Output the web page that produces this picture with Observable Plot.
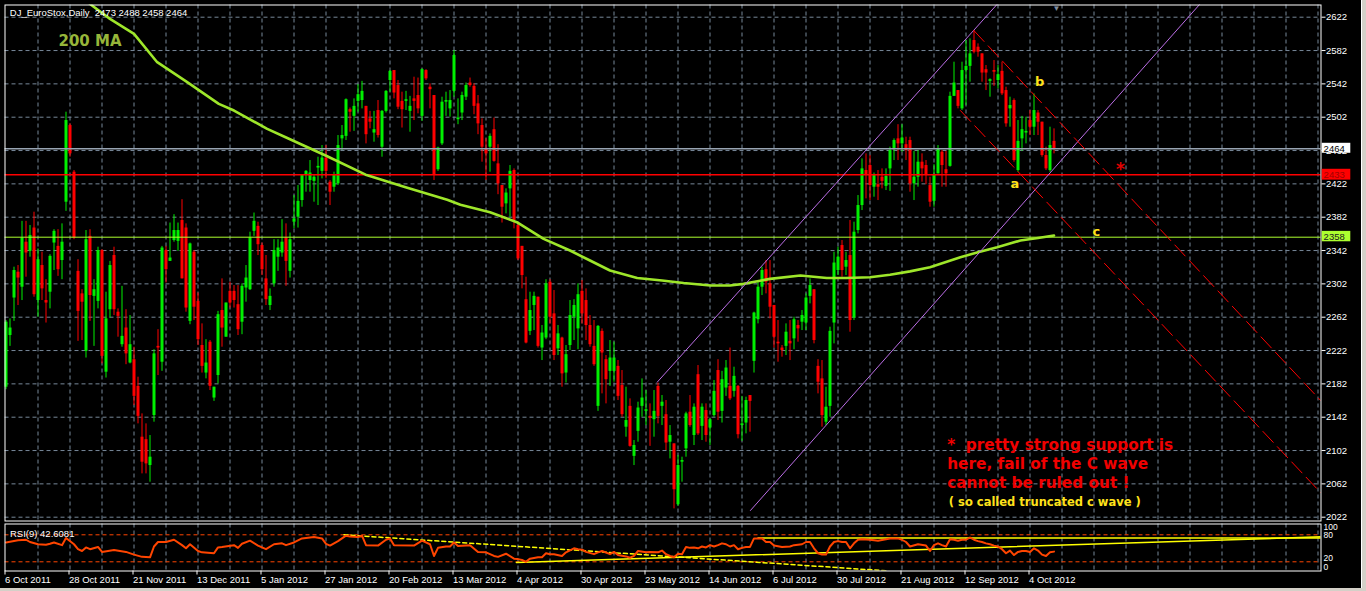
<!DOCTYPE html>
<html><head><meta charset="utf-8">
<script src="https://cdn.jsdelivr.net/npm/d3@7"></script>
<script src="https://cdn.jsdelivr.net/npm/@observablehq/plot@0.6"></script>
<style>
html,body{margin:0;padding:0;background:#000;width:1366px;height:591px;overflow:hidden;}
#main{position:absolute;left:0;top:0;}
#rsi{position:absolute;left:0;top:522px;}
#edgeR{position:absolute;left:1361px;top:0;width:5px;height:591px;background:#d4d0c8;border-left:1px solid #fff;}
#edgeB{position:absolute;left:0;top:588px;width:1366px;height:3px;background:#d4d0c8;}
</style></head>
<body>
<div id="main"></div><div id="rsi"></div><div id="edgeR"></div><div id="edgeB"></div>
<script>
// ---------------- DATA ----------------
const symbol = "DJ_EuroStox,Daily";
const opens = [2178,2240,2285,2316,2298,2352,2341,2369,2282,2324,
2282,2292,2351,2347,2330,2400,2492,2436,2317,2290,
2221,2359,2287,2281,2342,2196,2271,2336,2268,2229,
2249,2207,2211,2179,2118,2115,2084,2144,2227,2208,
2342,2329,2354,2353,2378,2369,2257,2340,2281,2228,
2195,2232,2165,2192,2270,2238,2293,2293,2277,2256,
2297,2295,2365,2371,2348,2308,2276,2302,2334,2339,
2357,2317,2376,2382,2402,2432,2426,2425,2441,2437,
2453,2424,2418,2422,2476,2479,2511,2503,2521,2522,
2515,2500,2483,2510,2466,2509,2546,2558,2540,2521,
2521,2509,2524,2528,2503,2558,2538,2528,2439,2470,
2520,2512,2533,2499,2507,2526,2543,2539,2518,2492,
2464,2466,2487,2446,2420,2398,2416,2438,2372,2347,
2283,2245,2276,2286,2225,2237,2304,2266,2224,2237,
2195,2228,2262,2248,2293,2282,2252,2227,2155,2245,
2211,2197,2197,2203,2180,2130,2155,2095,2125,2155,
2149,2143,2139,2179,2155,2145,2112,2110,2037,2088,
2104,2148,2120,2193,2131,2150,2129,2144,2198,2149,
2177,2179,2173,2179,2132,2135,2168,2209,2259,2298,
2319,2302,2276,2232,2225,2227,2233,2236,2252,2256,
2255,2287,2295,2203,2188,2136,2155,2255,2318,2348,
2322,2336,2261,2366,2396,2438,2444,2418,2421,2430,
2419,2440,2464,2476,2470,2469,2474,2422,2430,2448,
2444,2420,2401,2434,2460,2439,2443,2527,2534,2512,
2558,2563,2594,2586,2578,2559,2545,2558,2546,2557,
2534,2512,2522,2438,2476,2483,2498,2490,2507,2496,
2456,2438,2473];
const highs = [2258,2260,2322,2324,2377,2377,2372,2388,2344,2340,
2307,2337,2367,2367,2374,2508,2494,2438,2331,2295,
2366,2367,2307,2346,2343,2292,2329,2346,2272,2299,
2271,2264,2226,2190,2146,2134,2120,2223,2247,2347,
2347,2375,2385,2375,2403,2374,2351,2342,2291,2254,
2235,2234,2178,2269,2308,2279,2304,2300,2300,2302,
2324,2364,2387,2376,2351,2336,2296,2355,2355,2379,
2374,2363,2408,2420,2433,2438,2450,2432,2454,2468,
2468,2426,2436,2480,2492,2524,2513,2524,2541,2545,
2515,2509,2509,2522,2510,2534,2558,2558,2546,2532,
2533,2527,2550,2549,2560,2559,2542,2528,2466,2526,
2532,2534,2582,2524,2532,2543,2549,2542,2528,2500,
2476,2482,2501,2469,2420,2416,2444,2440,2374,2347,
2310,2292,2292,2286,2252,2307,2307,2294,2252,2238,
2228,2282,2283,2302,2306,2296,2264,2258,2252,2248,
2216,2234,2232,2210,2198,2178,2164,2114,2160,2188,
2174,2158,2174,2183,2168,2162,2132,2110,2096,2094,
2148,2168,2158,2204,2158,2158,2140,2186,2211,2197,
2210,2225,2202,2180,2167,2166,2168,2268,2306,2322,
2330,2330,2276,2258,2228,2254,2258,2262,2258,2270,
2290,2308,2295,2211,2210,2178,2250,2340,2346,2354,
2340,2378,2376,2408,2452,2458,2456,2435,2438,2440,
2440,2466,2476,2493,2493,2478,2478,2461,2462,2458,
2450,2430,2445,2468,2462,2461,2532,2568,2534,2568,
2594,2596,2606,2590,2578,2564,2548,2570,2564,2568,
2538,2526,2524,2498,2503,2502,2510,2530,2510,2496,
2466,2490,2488];
const lows = [2175,2227,2257,2276,2282,2310,2334,2286,2262,2282,
2255,2272,2318,2311,2307,2389,2454,2355,2233,2234,
2213,2257,2227,2272,2206,2189,2261,2264,2238,2226,
2205,2206,2156,2134,2074,2074,2064,2136,2192,2197,
2303,2329,2352,2341,2308,2268,2253,2258,2228,2195,
2188,2174,2161,2182,2226,2238,2273,2273,2240,2241,
2280,2294,2359,2336,2312,2276,2270,2298,2317,2334,
2299,2309,2368,2369,2394,2412,2412,2400,2396,2428,
2428,2396,2412,2420,2462,2474,2484,2485,2508,2512,
2470,2488,2472,2477,2454,2507,2532,2524,2511,2489,
2510,2484,2498,2506,2497,2546,2512,2426,2437,2468,
2503,2502,2526,2493,2498,2522,2538,2505,2481,2448,
2426,2436,2448,2409,2375,2386,2382,2368,2330,2296,
2230,2240,2246,2225,2210,2235,2254,2210,2216,2178,
2183,2222,2234,2223,2254,2234,2226,2203,2149,2170,
2158,2179,2184,2162,2142,2118,2106,2084,2112,2142,
2132,2107,2118,2134,2132,2102,2092,2032,2035,2064,
2094,2130,2108,2120,2114,2112,2108,2142,2138,2135,
2167,2162,2166,2116,2113,2122,2124,2195,2254,2288,
2290,2260,2225,2208,2214,2216,2210,2223,2232,2246,
2246,2278,2230,2170,2130,2132,2142,2230,2312,2310,
2312,2244,2258,2362,2390,2404,2402,2406,2402,2416,
2414,2413,2450,2450,2460,2450,2412,2402,2418,2424,
2421,2394,2394,2434,2418,2418,2442,2527,2512,2510,
2516,2544,2578,2574,2544,2534,2526,2539,2536,2528,
2490,2490,2448,2436,2461,2470,2480,2480,2480,2454,
2438,2436,2458];
const closes = [2256,2249,2318,2309,2357,2339,2360,2289,2331,2296,
2279,2335,2365,2319,2352,2498,2458,2357,2269,2280,
2355,2288,2295,2342,2215,2260,2324,2271,2263,2239,
2218,2229,2167,2143,2088,2086,2094,2218,2225,2345,
2319,2333,2366,2366,2308,2273,2350,2274,2235,2203,
2207,2179,2178,2265,2249,2279,2279,2282,2247,2299,
2309,2357,2377,2349,2319,2283,2287,2342,2345,2352,
2329,2355,2380,2401,2432,2437,2435,2430,2443,2453,
2437,2412,2432,2468,2480,2523,2508,2515,2529,2533,
2481,2496,2487,2480,2509,2533,2557,2531,2514,2511,
2523,2515,2521,2512,2559,2548,2535,2432,2465,2520,
2522,2522,2576,2501,2528,2540,2540,2515,2494,2466,
2458,2479,2449,2422,2394,2411,2437,2378,2332,2312,
2231,2270,2287,2227,2243,2302,2262,2216,2242,2194,
2217,2264,2276,2289,2266,2252,2229,2205,2251,2219,
2187,2213,2213,2167,2145,2138,2107,2108,2153,2165,
2151,2141,2149,2143,2160,2111,2120,2055,2084,2090,
2146,2132,2154,2122,2154,2120,2139,2173,2148,2187,
2201,2164,2191,2121,2134,2162,2161,2267,2298,2318,
2304,2274,2238,2230,2222,2244,2230,2259,2248,2264,
2285,2300,2234,2184,2144,2154,2245,2327,2334,2318,
2330,2258,2364,2396,2440,2432,2420,2432,2418,2425,
2431,2462,2474,2470,2477,2462,2422,2430,2448,2440,
2433,2400,2433,2464,2444,2434,2527,2543,2515,2558,
2563,2578,2580,2580,2555,2555,2547,2556,2553,2530,
2494,2516,2450,2473,2487,2485,2490,2510,2496,2456,
2440,2468,2464];

const tickIdx = [0,16,32,48,64,80,96,112,128,144,160,176,192,208,224,240,256];
const tickLabels = ["6 Oct 2011","28 Oct 2011","21 Nov 2011","13 Dec 2011","5 Jan 2012","27 Jan 2012","20 Feb 2012","13 Mar 2012","4 Apr 2012","30 Apr 2012","23 May 2012","14 Jun 2012","6 Jul 2012","30 Jul 2012","21 Aug 2012","12 Sep 2012","4 Oct 2012"];
const priceTicks = [2022,2062,2102,2142,2182,2222,2262,2302,2342,2382,2422,2462,2502,2542,2582,2622];
const gridIdx = [8,16,24,32,40,48,56,64,72,80,88,96,104,112,120,128,136,144,152,160,168,176,184,192,200,208,216,224,232,240,248,256,264,272,280,288,296,304,312,320,328];

// 200 MA (bar index, price)
const ma200 = [[19,2646],[21.5,2636],[26,2620],[32,2602],[37.8,2568],[45.3,2544],[53.2,2518],[57,2510],[65.3,2488],[69.9,2478],[79.9,2456],[89.9,2433],[99.9,2418],[110.3,2403],[113.6,2397],[121,2388],[127.7,2376],[134.4,2356],[141,2342],[146,2330],[151,2318],[157.8,2309],[164,2306],[169.4,2303],[176.1,2300],[181,2300],[184.4,2302],[191,2308],[198.6,2312],[205.2,2309],[210,2309],[216,2310],[221,2313],[226,2317],[231,2322],[238.6,2334],[243,2340],[247.8,2346],[253.6,2354],[258,2357],[262,2360]];

// horizontal levels
const bidLevel = 2464, supportLevel = 2433, maLevel = 2358;

// trend lines (bar index, price)
const channelUpper = [[162.8,2184],[255,2676]];
const channelLower = [[186.1,2030],[305,2673]];
const downUpper = [[241.95,2606],[328.75,2161.6]];
const downLower = [[238.6,2510],[328.75,2051]];

// wave labels
const waveLabels = [{t:"b",i:258.4,p:2544},{t:"a",i:252.2,p:2422},{t:"c",i:272.6,p:2365}];
const starLabel = [{t:"*",i:278.6,p:2443}];
const noteRed = "*  pretty strong support is\nhere, fail of the C wave\ncannot be ruled out !";
const noteYellow = "( so called truncated c wave )";
const maLabel = "200 MA";

// RSI(9)
const rsiSeries = [[0,63],[3,68],[5,69],[6,64],[8,59],[10,58],[11,60],[12,63],[14,57],[15,73],[17,59],[18,48],[19,44],[20,52],[21,48],[23,53],[24,42],[27,46],[30,42],[32,36],[34,31],[36,30],[37,54],[38,64],[40,64],[42,69],[44,57],[45,50],[46,59],[48,44],[49,41],[52,39],[53,52],[54,53],[57,57],[58,51],[59,60],[61,67],[63,56],[65,48],[67,59],[69,61],[70,57],[72,63],[74,72],[77,75],[79,72],[80,60],[81,56],[83,66],[85,78],[86,76],[88,75],[89,78],[90,57],[93,56],[95,69],[96,72],[97,57],[102,56],[104,67],[106,59],[107,33],[108,51],[110,54],[111,54],[112,63],[113,55],[116,57],[118,42],[120,41],[122,33],[123,31],[125,38],[127,27],[128,26],[129,24],[130,20],[131,27],[133,30],[134,30],[135,39],[136,37],[137,37],[139,33],[140,41],[142,50],[143,48],[144,47],[145,42],[147,37],[148,41],[149,44],[151,37],[152,42],[153,35],[155,32],[156,29],[157,33],[158,44],[160,41],[161,42],[163,41],[164,45],[165,37],[166,33],[167,30],[168,38],[169,37],[170,53],[171,51],[172,52],[173,50],[174,54],[175,52],[176,57],[177,54],[178,57],[179,61],[180,59],[181,54],[182,57],[183,48],[184,51],[185,53],[186,53],[187,72],[188,72],[189,72],[190,64],[191,64],[192,56],[194,53],[196,54],[197,57],[199,59],[200,64],[201,64],[202,50],[203,39],[204,36],[205,36],[206,54],[207,64],[208,66],[209,64],[210,64],[211,50],[212,61],[213,69],[214,70],[216,69],[218,67],[220,70],[221,72],[222,72],[223,72],[224,69],[225,64],[226,54],[228,59],[230,56],[231,44],[232,57],[233,61],[234,57],[235,54],[236,70],[237,69],[238,67],[239,69],[240,69],[241,74],[242,69],[243,66],[244,64],[245,61],[246,59],[247,56],[248,54],[249,48],[250,39],[251,45],[252,35],[253,42],[254,44],[255,44],[256,42],[257,50],[258,45],[259,36],[260,33],[261,41],[262,42.6081]];
const rsiLevels = [80, 20];
const rsiFlat = [[188,73],[328.75,73]];
const rsiRising = [[127.6,18.5],[328.75,75.5]];
const rsiFalling = [[84.5,80],[220,0]];

// ---------------- DRAW ----------------
const GREEN = "#00f000", RED = "#ff0000", GRID = "#778899";
const candles = opens.map((o, i) => ({i, o, h: highs[i], l: lows[i], c: closes[i]}));
const col = d => d.c >= d.o ? GREEN : RED;
const pts = a => a.map(([i, p]) => ({i, p}));
const xDomain = [-0.25, 328.75];
const last = candles[candles.length - 1];
const title = `${symbol}\u00a0\u00a0${last.o} ${last.h} ${last.l} ${last.c}`;
const labelByIdx = new Map(tickIdx.map((d, k) => [d, tickLabels[k]]));
const FONT = "Liberation Sans, Arial, sans-serif";

const mainPlot = Plot.plot({
  width: 1366, height: 522,
  marginLeft: 4.5, marginRight: 45.5, marginTop: 4.5, marginBottom: 1.5,
  style: {background: "#000", color: "#fff", fontFamily: FONT, fontSize: "9.5px", overflow: "visible"},
  x: {domain: xDomain, axis: null},
  y: {domain: [2017.44, 2636.64]},
  marks: [
    Plot.gridX(gridIdx, {stroke: GRID, strokeOpacity: 1, strokeDasharray: "4,3"}),
    Plot.gridY(priceTicks, {stroke: GRID, strokeOpacity: 1, strokeDasharray: "4,3"}),
    Plot.ruleX(candles, {x: "i", y1: "l", y2: "h", stroke: col, strokeWidth: 1}),
    Plot.ruleX(candles, {x: "i", y1: "o", y2: "c", stroke: col, strokeWidth: 3}),
    Plot.ruleY([bidLevel], {stroke: "#98a4b2", strokeWidth: 1.5}),
    Plot.ruleY([supportLevel], {stroke: RED, strokeWidth: 1.5}),
    Plot.ruleY([maLevel], {stroke: "#adff2f", strokeWidth: 1}),
    Plot.line(pts(ma200), {x: "i", y: "p", stroke: "#9ee62a", strokeWidth: 2.6, clip: true}),
    Plot.line(pts(channelUpper), {x: "i", y: "p", stroke: "#bb6ee6", strokeWidth: 1, clip: true}),
    Plot.line(pts(channelLower), {x: "i", y: "p", stroke: "#bb6ee6", strokeWidth: 1, clip: true}),
    Plot.line(pts(downUpper), {x: "i", y: "p", stroke: RED, strokeWidth: 1, strokeDasharray: "15,6", clip: true}),
    Plot.line(pts(downLower), {x: "i", y: "p", stroke: RED, strokeWidth: 1, strokeDasharray: "15,6", clip: true}),
    Plot.frame({stroke: "#fff"}),
    Plot.axisY(priceTicks, {anchor: "right", tickSize: 4, tickPadding: 1, tickFormat: d => String(d), label: null, fontSize: 9.5}),
    // price boxes on the right axis
    Plot.rect([bidLevel], {x1: () => 329.05, x2: () => 336.2, y1: d => d - 5.3, y2: d => d + 6.7, fill: "#fff"}),
    Plot.text([bidLevel], {x: () => 329.4, y: d => d, text: d => String(d), fill: "#000", textAnchor: "start", fontSize: 9.5}),
    Plot.rect([supportLevel], {x1: () => 329.05, x2: () => 336.2, y1: d => d - 6.5, y2: d => d + 6.5, fill: RED}),
    Plot.text([supportLevel], {x: () => 329.4, y: d => d, text: d => String(d), fill: "#a00000", textAnchor: "start", fontSize: 9.5}),
    Plot.rect([maLevel], {x1: () => 329.05, x2: () => 336.2, y1: d => d - 5.5, y2: d => d + 7, fill: "#adff2f"}),
    Plot.text([maLevel], {x: () => 329.4, y: d => d, text: d => String(d), fill: "#202020", textAnchor: "start", fontSize: 9.5}),
    // texts
    Plot.text([title], {text: d => d, frameAnchor: "top-left", dx: 4.8, dy: 8, textAnchor: "start", lineAnchor: "middle", fill: "#fff", fontSize: 9.5}),
    Plot.text([maLabel], {text: d => d, frameAnchor: "top-left", dx: 53.5, dy: 36.2, textAnchor: "start", lineAnchor: "middle", fill: "#97b63a", fontSize: 15, fontWeight: "bold", fontFamily: "DejaVu Sans"}),
    Plot.text(waveLabels, {x: "i", y: "p", text: "t", fill: "#ffe21a", fontSize: 13, fontWeight: "bold", fontFamily: "DejaVu Sans"}),
    Plot.text(starLabel, {x: "i", y: "p", text: "t", fill: "#e00000", fontSize: 17, fontWeight: "bold", fontFamily: "DejaVu Sans", dy: 3}),
    Plot.text([noteRed], {text: d => d, frameAnchor: "top-left", dx: 942.2, dy: 458.2, textAnchor: "start", lineAnchor: "middle", lineHeight: 1.25, fill: "#f00000", fontSize: 15.3, fontWeight: "bold", fontFamily: "DejaVu Sans"}),
    Plot.text([noteYellow], {text: d => d, frameAnchor: "top-left", dx: 943.8, dy: 497.3, textAnchor: "start", lineAnchor: "middle", fill: "#ffe21a", fontSize: 11.5, fontWeight: "bold", fontFamily: "DejaVu Sans"}),
    Plot.text(["\u25BC"], {x: () => 262.6, frameAnchor: "top", dy: 3, lineAnchor: "middle", fill: "#7f8da0", fontSize: 8})
  ]
});
document.getElementById("main").append(mainPlot);

const rsiPlot = Plot.plot({
  width: 1366, height: 69,
  marginLeft: 4.5, marginRight: 45.5, marginTop: 1.5, marginBottom: 20.5,
  style: {background: "#000", color: "#fff", fontFamily: FONT, fontSize: "9.5px", overflow: "visible"},
  x: {domain: xDomain},
  y: {domain: [-0.44, 104], axis: null},
  marks: [
    Plot.gridX(gridIdx, {stroke: GRID, strokeOpacity: 1, strokeDasharray: "4,3"}),
    Plot.ruleY(rsiLevels, {stroke: "#ff4500", strokeDasharray: "4,3", strokeWidth: 1}),
    Plot.line(pts(rsiFlat), {x: "i", y: "p", stroke: "#ffff00", strokeWidth: 1.5, clip: true}),
    Plot.line(pts(rsiRising), {x: "i", y: "p", stroke: "#ffff00", strokeWidth: 1.5, clip: true}),
    Plot.line(pts(rsiFalling), {x: "i", y: "p", stroke: "#ffff00", strokeWidth: 1.5, strokeDasharray: "4,3", clip: true}),
    Plot.line(pts(rsiSeries), {x: "i", y: "p", stroke: "#ff4500", strokeWidth: 2, clip: true}),
    Plot.frame({stroke: "#fff"}),
    Plot.axisX(tickIdx, {anchor: "bottom", tickSize: 4, tickPadding: 1, tickFormat: d => labelByIdx.get(d), textAnchor: "start", dx: -1, label: null, fontSize: 9.5}),
    Plot.text([100], {x: () => 329.4, y: d => d, text: d => String(d), textAnchor: "start", fill: "#fff", dy: 1.4, fontSize: 8.5}),
    Plot.text([80], {x: () => 329.4, y: d => d, text: d => String(d), textAnchor: "start", fill: "#fff", dy: 0.8, fontSize: 8.5}),
    Plot.text([20], {x: () => 329.4, y: d => d, text: d => String(d), textAnchor: "start", fill: "#fff", dy: -3.4, fontSize: 8.5}),
    Plot.text([0], {x: () => 329.4, y: d => d, text: d => String(d), textAnchor: "start", fill: "#fff", dy: -3.4, fontSize: 8.5}),
    Plot.text([`RSI(9) ${rsiSeries[rsiSeries.length - 1][1]}`], {text: d => d, frameAnchor: "top-left", dx: 5, dy: 10.3, textAnchor: "start", lineAnchor: "middle", fill: "#fff", fontSize: 9.5})
  ]
});
document.getElementById("rsi").append(rsiPlot);
</script>
</body></html>
